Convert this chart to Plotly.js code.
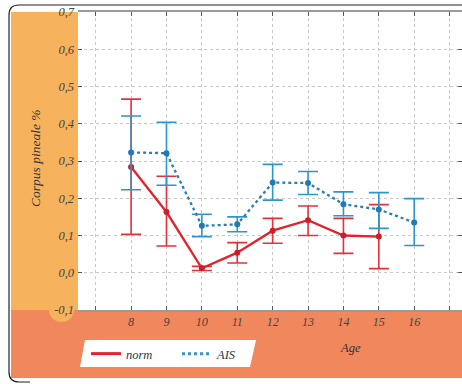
<!DOCTYPE html>
<html>
<head>
<meta charset="utf-8">
<script src="https://cdn.plot.ly/plotly-3.0.1.min.js"></script>
<style>html,body{margin:0;padding:0;background:#fff;}#chart{width:462px;height:384px;}</style>
</head>
<body>
<div id="chart"></div>
<script>
// ---- data ----
const ages = [8, 9, 10, 11, 12, 13, 14, 15];
const normMean = [0.284, 0.163, 0.012, 0.054, 0.113, 0.141, 0.100, 0.097];
const normUpper = [0.466, 0.259, 0.017, 0.081, 0.146, 0.179, 0.146, 0.183];
const normLower = [0.103, 0.072, 0.006, 0.026, 0.079, 0.100, 0.052, 0.011];

const agesAIS = [8, 9, 10, 11, 12, 13, 14, 15, 16];
const aisMean = [0.323, 0.321, 0.126, 0.130, 0.242, 0.241, 0.184, 0.170, 0.135];
const aisUpper = [0.421, 0.404, 0.157, 0.150, 0.291, 0.272, 0.217, 0.215, 0.199];
const aisLower = [0.223, 0.235, 0.097, 0.110, 0.195, 0.210, 0.153, 0.119, 0.073];

const yTickVals = [-0.1, 0, 0.1, 0.2, 0.3, 0.4, 0.5, 0.6, 0.7];
const yTickText = ['-0,1', '0,0', '0,1', '0,2', '0,3', '0,4', '0,5', '0,6', '0,7'];
const xTickVals = [7, 8, 9, 10, 11, 12, 13, 14, 15, 16, 17];
const xTickText = ['', '8', '9', '10', '11', '12', '13', '14', '15', '16', ''];

const seriesNames = ['norm', 'AIS'];
const yTitle = 'Corpus pineale %';
const xTitle = 'Age';

// ---- layout geometry ----
const W = 462, H = 384;
const M = {l: 78, r: 0, t: 12, b: 74};
const PW = W - M.l - M.r, PH = H - M.t - M.b;
const px = x => (x - M.l) / PW;
const py = y => (H - M.b - y) / PH;

const serif = 'Liberation Serif, Times New Roman, serif';
const ORANGE = '#F6B25C';
const SALMON = '#F1875C';
const RED = '#E3232C', BLUE = '#2B7DB5';

function diff(a, b) { return a.map((v, i) => v - b[i]); }

const traces = [
  {
    x: ages, y: normMean, name: seriesNames[0], type: 'scatter', mode: 'lines+markers',
    showlegend: false,
    line: {color: RED, width: 2.3},
    marker: {color: '#C8202A', size: 6},
    error_y: {type: 'data', symmetric: false, array: diff(normUpper, normMean),
      arrayminus: diff(normMean, normLower), color: '#E3313A', thickness: 1.6, width: 10}
  },
  {
    x: agesAIS, y: aisMean, name: seriesNames[1], type: 'scatter', mode: 'lines+markers',
    showlegend: false,
    line: {color: BLUE, width: 2.3, dash: 'dot'},
    marker: {color: '#2378B5', size: 6},
    error_y: {type: 'data', symmetric: false, array: diff(aisUpper, aisMean),
      arrayminus: diff(aisMean, aisLower), color: '#2E95C9', thickness: 1.6, width: 10}
  },
  {x: [null], y: [null], name: seriesNames[0], type: 'scatter', mode: 'lines',
   line: {color: RED, width: 3}},
  {x: [null], y: [null], name: seriesNames[1], type: 'scatter', mode: 'lines',
   line: {color: '#3A93CC', width: 3, dash: 'dot'}}
];

const shapes = [
  {type: 'rect', xref: 'paper', yref: 'paper', x0: px(11), x1: px(W), y0: py(310), y1: py(378),
   fillcolor: SALMON, line: {width: 0}, layer: 'below'},
  {type: 'rect', xref: 'paper', yref: 'paper', x0: px(11), x1: px(78), y0: py(310), y1: py(12),
   fillcolor: ORANGE, line: {width: 0}, layer: 'below'},
  {type: 'circle', xref: 'paper', yref: 'paper', x0: px(49), x1: px(74), y0: py(298), y1: py(322),
   fillcolor: ORANGE, line: {width: 0}, layer: 'below'},
  {type: 'path', xref: 'paper', yref: 'paper',
   path: `M ${px(85)} ${py(340)} L ${px(256)} ${py(340)} L ${px(250)} ${py(367)} L ${px(80)} ${py(367)} Z`,
   fillcolor: '#FFFFFF', line: {width: 0}, layer: 'below'},
  {type: 'path', xref: 'paper', yref: 'paper',
   path: `M ${px(470)} ${py(5)} L ${px(19)} ${py(5)} Q ${px(9)} ${py(5)} ${px(9)} ${py(15)} L ${px(9)} ${py(372)} Q ${px(9)} ${py(382)} ${px(19)} ${py(382)} L ${px(30)} ${py(382)}`,
   line: {color: '#222', width: 1.2}, layer: 'below'}
];

const annotations = [
  {text: yTitle, xref: 'paper', yref: 'paper', x: px(35), y: py(158), showarrow: false,
   xanchor: 'center', yanchor: 'middle',
   textangle: -90, font: {family: serif, size: 13.5, style: 'italic', color: '#333'}},
  {text: xTitle, xref: 'paper', yref: 'paper', x: px(350), y: py(348), showarrow: false,
   xanchor: 'center', yanchor: 'middle',
   font: {family: serif, size: 12.5, style: 'italic', color: '#333'}}
];

const layout = {
  width: W, height: H,
  margin: M,
  paper_bgcolor: 'rgba(0,0,0,0)',
  plot_bgcolor: '#FFFFFF',
  showlegend: true,
  legend: {orientation: 'h', x: px(86), y: py(354), xanchor: 'left', yanchor: 'middle',
    bgcolor: 'rgba(0,0,0,0)', font: {family: serif, size: 12.5, style: 'italic', color: '#333'},
    entrywidth: 46, itemwidth: 30, tracegroupgap: 0},
  xaxis: {
    range: [6.5, 17.35], tickvals: xTickVals, ticktext: xTickText,
    showgrid: true, gridcolor: '#C8C8C8', griddash: 'dot', gridwidth: 1,
    ticks: 'inside', ticklen: 4, tickcolor: '#555', mirror: 'allticks',
    showline: true, linecolor: '#9A9A9A', linewidth: 2,
    zeroline: false,
    tickfont: {family: serif, size: 12, style: 'italic', color: '#444'}
  },
  yaxis: {
    range: [-0.1, 0.7], tickvals: yTickVals, ticktext: yTickText,
    showgrid: true, gridcolor: '#C8C8C8', griddash: 'dot', gridwidth: 1,
    ticks: 'inside', ticklen: 4, tickcolor: '#555', mirror: 'allticks',
    showline: false, zeroline: false, ticklabelstandoff: 3,
    tickfont: {family: serif, size: 12.5, style: 'italic', color: '#444'}
  },
  shapes: shapes,
  annotations: annotations
};

Plotly.newPlot('chart', traces, layout, {displayModeBar: false, staticPlot: true});
</script>
</body>
</html>
